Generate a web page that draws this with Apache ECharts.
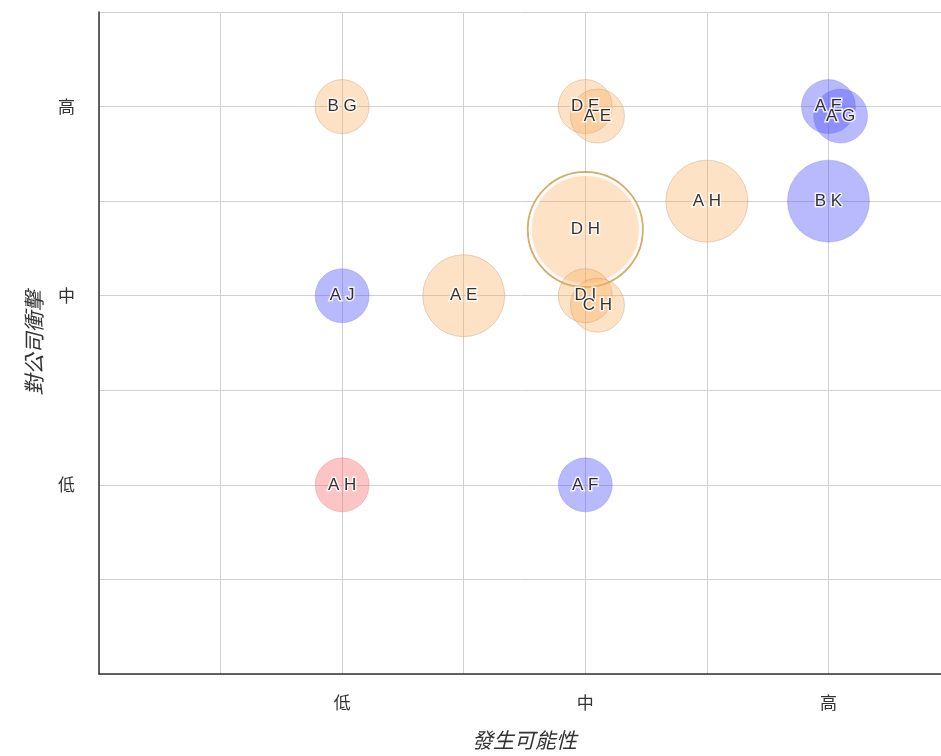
<!DOCTYPE html>
<html>
<head>
<meta charset="utf-8">
<title>風險矩陣</title>
<script src="https://cdn.jsdelivr.net/npm/echarts@6/dist/echarts.min.js"></script>
<style>
  html, body { margin: 0; padding: 0; background: #fff; }
  #chart { width: 941px; height: 756px; }
</style>
</head>
<body>
<div id="chart"></div>
<script>
// Risk items: code, likelihood (x), impact (y), weight, group
const names      = ['BG', 'DE', 'AE', 'AE', 'AG', 'AH', 'BK', 'DH', 'AJ', 'AE', 'DI', 'CH', 'AH', 'AF'];
const likelihood = [1,    2,    2.05, 3,    3.05, 2.5,  3,    2,    1,    1.5,  2,    2.05, 1,    2];
const impact     = [3,    3,    2.95, 3,    2.95, 2.5,  2.5,  2.35, 2,    2,    2,    1.95, 1,    1];
const weight     = [1,    1,    1,    1,    1,    2,    2,    3,    1,    2,    1,    1,    1,    1];
const group      = [0,    0,    0,    1,    1,    0,    1,    0,    1,    0,    0,    0,    2,    1];
const focusIndex = 7;

// Axis level labels for values 1, 2, 3
const levelLabels = { 1: '低', 2: '中', 3: '高' };
const xAxisName = '發生可能性';
const yAxisName = '對公司衝擊';

const fills   = ['rgba(250,175,95,0.45)', 'rgba(80,80,250,0.5)', 'rgba(245,110,110,0.5)'];
const borders = ['rgba(200,160,120,0.55)', 'rgba(120,120,240,0.4)', 'rgba(230,140,140,0.5)'];

const sizeOf = w => 26 + 28 * w;
const spaced = s => s.split('').join(' ');

const points = names.map((n, i) => ({
  name: n,
  value: [likelihood[i], impact[i], weight[i]],
  itemStyle: i === focusIndex
    ? { color: fills[group[i]], borderColor: '#ffffff', borderWidth: 3 }
    : { color: fills[group[i]], borderColor: borders[group[i]], borderWidth: 1 }
}));

const chart = echarts.init(document.getElementById('chart'));

const axisCommon = {
  type: 'value',
  min: 0,
  max: 3.5,
  interval: 0.5,
  nameLocation: 'middle',
  nameTextStyle: { fontSize: 21, fontStyle: 'italic', color: '#333', fontFamily: 'Noto Sans CJK TC' },
  axisLine: { show: true, lineStyle: { color: '#333', width: 1.5 } },
  axisTick: { show: false },
  splitLine: { show: true, lineStyle: { color: '#d0d0d0', width: 1 } },
  axisLabel: {
    fontSize: 17,
    color: '#333',
    fontFamily: 'Noto Sans CJK TC',
    formatter: v => levelLabels[v] || ''
  }
};

chart.setOption({
  animation: false,
  backgroundColor: '#ffffff',
  // the plot runs past the right edge of the page
  grid: { left: 99, top: 12, right: -9, bottom: 82, containLabel: false, outerBoundsMode: 'none' },
  xAxis: Object.assign({}, axisCommon, {
    name: xAxisName,
    nameGap: 56,
    axisLabel: Object.assign({}, axisCommon.axisLabel, { margin: 20 })
  }),
  yAxis: Object.assign({}, axisCommon, {
    name: yAxisName,
    nameGap: 54,
    axisLabel: Object.assign({}, axisCommon.axisLabel, { margin: 24 })
  }),
  series: [
    {
      // outer ring marking the focused item
      type: 'scatter',
      silent: true,
      data: [[likelihood[focusIndex], impact[focusIndex], weight[focusIndex]]],
      symbolSize: v => sizeOf(v[2]) + 5,
      itemStyle: { color: 'rgba(0,0,0,0)', borderColor: '#c99a4e', borderWidth: 2 },
      z: 1
    },
    {
      type: 'scatter',
      data: points,
      symbolSize: v => sizeOf(v[2]),
      label: {
        show: true,
        position: 'inside',
        formatter: p => spaced(p.name),
        fontSize: 17,
        fontFamily: 'Liberation Sans',
        color: '#000',
        textBorderColor: '#ffffff',
        textBorderWidth: 3
      },
      z: 2
    }
  ]
});
</script>
</body>
</html>
